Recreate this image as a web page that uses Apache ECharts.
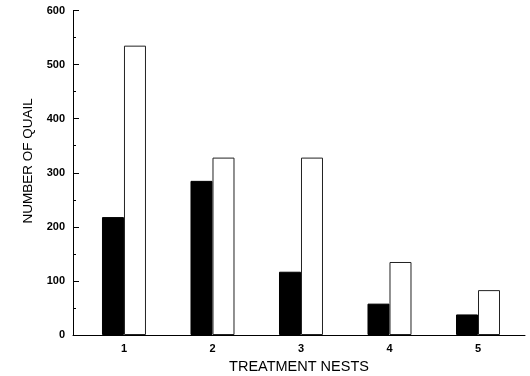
<!DOCTYPE html>
<html><head><meta charset="utf-8">
<script src="https://cdn.jsdelivr.net/npm/echarts@6/dist/echarts.min.js"></script>
<style>html,body{margin:0;padding:0;background:#fff}#c{width:530px;height:376px}</style>
</head><body><div id="c"></div>
<script>
const nests = [1, 2, 3, 4, 5];
const blackValues = [218, 285, 117, 58, 38];
const whiteValues = [535, 328, 328, 135, 83];
const yTicks = [0, 100, 200, 300, 400, 500, 600];

const chart = echarts.init(document.getElementById('c'), null, {renderer: 'canvas'});
const font = '"Liberation Sans", Arial, sans-serif';
chart.setOption({
  animation: false,
  grid: {left: 73, right: 5, top: 10.5, bottom: 41, containLabel: false, outerBoundsMode: 'none'},
  xAxis: {
    type: 'value', min: 0.424, max: 5.531,
    name: 'TREATMENT NESTS', nameLocation: 'middle', nameGap: 24,
    nameTextStyle: {fontFamily: font, fontSize: 14.5, color: '#000'},
    axisLine: {show: true, lineStyle: {color: '#000', width: 1}},
    axisTick: {show: false},
    splitLine: {show: false},
    axisLabel: {customValues: nests, fontFamily: font, fontWeight: 'bold', fontSize: 11, color: '#000', margin: 8}
  },
  yAxis: {
    type: 'value', min: 0, max: 600, interval: 100,
    name: 'NUMBER OF QUAIL', nameLocation: 'middle', nameGap: 38, nameRotate: 90,
    nameTextStyle: {fontFamily: font, fontSize: 13.5, color: '#000', padding: [0, 0, 0, 24]},
    axisLine: {show: true, lineStyle: {color: '#000', width: 1}},
    axisTick: {show: true, inside: true, length: 6, lineStyle: {color: '#000'}},
    minorTick: {show: true, splitNumber: 2, length: 3, lineStyle: {color: '#000'}},
    splitLine: {show: false},
    axisLabel: {fontFamily: font, fontWeight: 'bold', fontSize: 11, color: '#000', margin: 8,
      formatter: v => yTicks.includes(v) ? String(v) : ''}
  },
  series: [
    {type: 'bar', data: nests.map((n, i) => [n, blackValues[i]]), barWidth: 22, barGap: '0%',
     itemStyle: {color: '#000', borderColor: '#000', borderWidth: 1}},
    {type: 'bar', data: nests.map((n, i) => [n, whiteValues[i]]), barWidth: 22, barGap: '0%',
     itemStyle: {color: '#fff', borderColor: '#222', borderWidth: 1}}
  ]
});
</script></body></html>
